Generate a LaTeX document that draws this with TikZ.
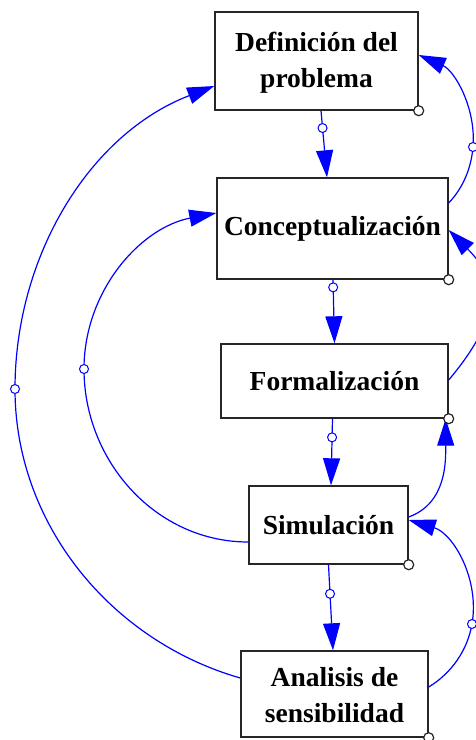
\documentclass[tikz,border=0pt]{standalone}
\usepackage{fontspec}
\setmainfont{Liberation Serif}
\usetikzlibrary{arrows.meta}
\begin{document}
\begin{tikzpicture}[x=1pt,y=-1pt,
  box/.style={draw=black!85, line width=1.4pt, fill=white, inner sep=0pt, align=center,
    font=\fontsize{27.5}{36}\selectfont\bfseries},
  flow/.style={draw=blue, line width=1.2pt, -{Triangle[length=27pt,width=17pt]}},
  bmark/.style={circle, draw=blue, fill=white, line width=1pt, inner sep=0pt, minimum size=9pt},
  cmark/.style={circle, draw=black!85, fill=white, line width=1.2pt, inner sep=0pt, minimum size=10pt}]
\useasboundingbox (0,0) rectangle (476,740);
\fill[white] (0,0) rectangle (476,740);
\clip (0,0) rectangle (476,740);

\node[box, minimum width=203pt, minimum height=98pt] (def) at (316.5,61) {\rule{0pt}{22pt}Definición del\\problema};
\node[box, minimum width=231pt, minimum height=101pt] (con) at (332.5,228.5) {Conceptualización};
\node[box, minimum width=227pt, minimum height=74pt] (for) at (334.5,381) {Formalización};
\node[box, minimum width=159pt, minimum height=78pt] (sim) at (328.5,525) {Simulación};
\node[box, minimum width=187pt, minimum height=86pt] (ana) at (334.5,694) {\rule{0pt}{21pt}Analisis de\\sensibilidad};

\coordinate (mo) at (15,389);
\coordinate (mi) at (84,369);
\coordinate (mr1) at (473,147);
\coordinate (mr2) at (472,624);

% vertical chain
\draw[flow] ([xshift=4.5pt]def.south) -- ([xshift=-5.5pt]con.north) node[bmark, pos=0.26] {};
\draw[flow] ([xshift=0.5pt]con.south) -- (for.north) node[bmark, pos=0.12] {};
\draw[flow] ([xshift=-2pt]for.south) -- ([xshift=2.5pt]sim.north) node[bmark, pos=0.28] {};
\draw[flow] (sim.south) -- ([xshift=-1.5pt]ana.north) node[bmark, pos=0.34] {};

% left loops
\draw[flow] ([yshift=16pt]ana.west) to[out=164,in=-90,looseness=0.94] (mo)
  to[out=90,in=201,looseness=0.94] ([yshift=-25pt]def.west);
\draw[flow] ([yshift=-17pt]sim.west) to[out=180,in=-90,looseness=0.99] (mi)
  to[out=90,in=191,looseness=0.97] ([yshift=15.5pt]con.west);

% right loops
\draw[flow] ([yshift=25.5pt]con.east) to[out=46.5,in=-94.7,looseness=0.88] (mr1)
  to[out=85.3,in=-23.6,looseness=0.94] ([yshift=6pt]def.east);
\draw[flow] ([yshift=1pt]for.east) to[out=50,in=-45,looseness=1.3] ([yshift=-1.5pt]con.east);
\draw[flow] ([yshift=8pt]sim.east) to[out=20,in=-90] ([xshift=-3pt]for.south east);
\draw[flow] ([yshift=7pt]ana.east) to[out=31.2,in=-99.8,looseness=0.89] (mr2)
  to[out=80.2,in=-16.8,looseness=0.97] ([yshift=5pt]sim.east);

% marks on connectors
\node[bmark] at (mo) {};
\node[bmark] at (mi) {};
\node[bmark] at (mr1) {};
\node[bmark] at (mr2) {};

% corner marks
\node[cmark] at (def.south east) {};
\node[cmark] at (con.south east) {};
\node[cmark] at (for.south east) {};
\node[cmark] at (sim.south east) {};
\node[cmark] at (ana.south east) {};
\end{tikzpicture}
\end{document}
